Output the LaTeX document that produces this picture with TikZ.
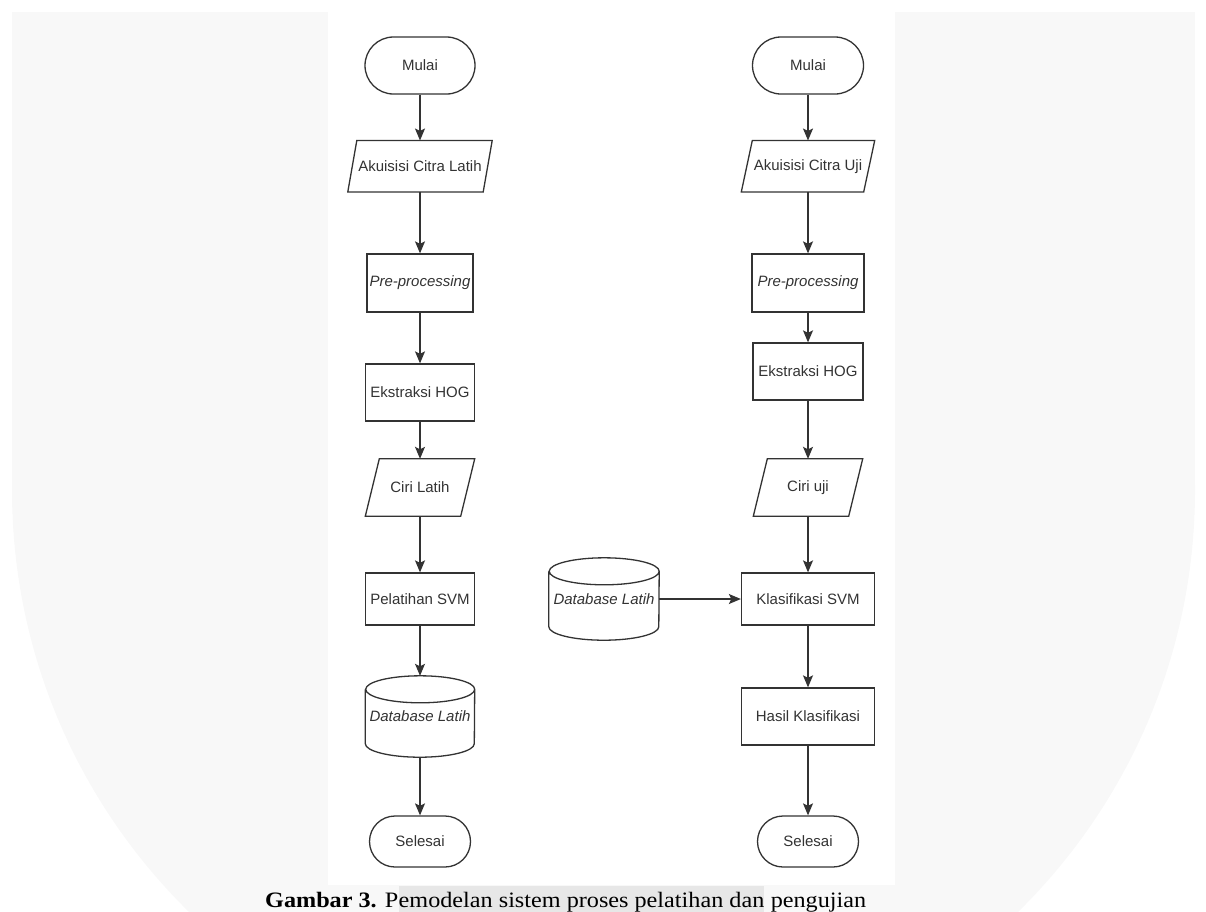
\documentclass[tikz,border=0pt]{standalone}
\usepackage{fontspec}
\setmainfont{Liberation Serif}
\newfontfamily\boxfont{Liberation Sans}
\usetikzlibrary{arrows.meta,calc}
\definecolor{wm}{HTML}{F8F8F8}
\definecolor{hl}{HTML}{E7E7E7}
\definecolor{ln}{HTML}{333333}
\definecolor{txt}{HTML}{333333}
\newcommand\capscale[1]{\scalebox{1.1}[1]{#1}}
\newcommand\drawpara[2]{\draw[shp] ([xshift=#2*0.5pt]#1.north west) -- ([xshift=#2*0.5pt]#1.north east) -- ([xshift=-#2*0.5pt]#1.south east) -- ([xshift=-#2*0.5pt]#1.south west) -- cycle;}
\newcommand\drawdb[3]{\draw[shp] ([yshift=-#3pt]#1.north west) -- ([yshift=#3pt]#1.south west) arc[start angle=180,end angle=360,x radius=#2pt,y radius=#3pt] -- ([yshift=-#3pt]#1.north east) arc[start angle=0,end angle=180,x radius=#2pt,y radius=#3pt] arc[start angle=180,end angle=360,x radius=#2pt,y radius=#3pt];}
\tikzset{
 shp/.style={draw=ln, line width=1.3pt},
 lbl/.style={font=\boxfont\fontsize{15}{18}\selectfont, text=txt, inner sep=0pt, align=center},
 term/.style={lbl, shp},
 proc/.style={lbl, shp},
 iobox/.style={lbl},
 dbbox/.style={lbl},
 arr/.style={draw=ln, line width=1.3pt, -{Stealth[length=12pt,width=10pt,inset=2.5pt]}},
 captxt/.style={font=\fontsize{22}{26}\selectfont, text=black, inner sep=0pt},
}
\begin{document}
\begin{tikzpicture}[x=1pt,y=-1pt]
\useasboundingbox (0,0) rectangle (1206,911);
% watermark background
\begin{scope}
\clip (12,12) rectangle (1195,911);
\fill[wm] (12,12) rectangle (1195,490);
\fill[wm] (603.5,490) circle[radius=591.5pt];
\end{scope}
\fill[white] (328,0) rectangle (895,885);

% left column
\node[term, minimum width=110pt, minimum height=57pt, rounded corners=28.5pt] (m1) at (420,65.5) {Mulai};
\node[iobox, minimum width=135pt, minimum height=51pt] (a1) at (420,166.2) {Akuisisi Citra Latih};
\drawpara{a1}{9}
\node[proc, minimum width=106pt, minimum height=58pt] (p1) at (420,283) {\itshape Pre-processing};
\node[proc, minimum width=109pt, minimum height=57pt] (e1) at (420,392.5) {Ekstraksi HOG};
\node[iobox, minimum width=95pt, minimum height=57pt] (c1) at (420,487.5) {Ciri Latih};
\drawpara{c1}{14}
\node[proc, minimum width=109pt, minimum height=52pt] (s1) at (420,599) {Pelatihan SVM};
\node[dbbox, minimum width=109pt, minimum height=81pt] (d1) at (420,716.5) {\itshape Database Latih};
\drawdb{d1}{54.5}{13.5}
\node[term, minimum width=101pt, minimum height=51pt, rounded corners=25.5pt] (f1) at (420,841.5) {Selesai};

% right column
\node[term, minimum width=111pt, minimum height=57pt, rounded corners=28.5pt] (m2) at (808,65.5) {Mulai};
\node[iobox, minimum width=122pt, minimum height=51pt] (a2) at (808,166.2) {Akuisisi Citra Uji};
\drawpara{a2}{11}
\node[proc, minimum width=112pt, minimum height=58pt] (p2) at (808,283) {\itshape Pre-processing};
\node[proc, minimum width=110pt, minimum height=57pt] (e2) at (808,371.5) {Ekstraksi HOG};
\node[iobox, minimum width=95pt, minimum height=57pt] (c2) at (808,487.5) {Ciri uji};
\drawpara{c2}{14}
\node[proc, minimum width=133pt, minimum height=52pt] (k2) at (808,599) {Klasifikasi SVM};
\node[dbbox, minimum width=110pt, minimum height=82pt] (d2) at (604,599) {\itshape Database Latih};
\drawdb{d2}{55}{13.5}
\node[proc, minimum width=133pt, minimum height=57pt] (h2) at (808,716.5) {Hasil Klasifikasi};
\node[term, minimum width=101pt, minimum height=51pt, rounded corners=25.5pt] (f2) at (808,841.5) {Selesai};

% connectors left
\draw[arr] (m1.south) -- (a1.north);
\draw[arr] (a1.south) -- (p1.north);
\draw[arr] (p1.south) -- (e1.north);
\draw[arr] (e1.south) -- (c1.north);
\draw[arr] (c1.south) -- (s1.north);
\draw[arr] (s1.south) -- (d1.north);
\draw[arr] (d1.south) -- (f1.north);
% connectors right
\draw[arr] (m2.south) -- (a2.north);
\draw[arr] (a2.south) -- (p2.north);
\draw[arr] (p2.south) -- (e2.north);
\draw[arr] (e2.south) -- (c2.north);
\draw[arr] (c2.south) -- (k2.north);
\draw[arr] (d2.east) -- (k2.west);
\draw[arr] (k2.south) -- (h2.north);
\draw[arr] (h2.south) -- (f2.north);

% caption
\node[captxt, anchor=base west] (capA) at (265,907) {\capscale{\textbf{Gambar 3.} P}};
\node[captxt, anchor=base west, fill=hl, text height=21pt, text depth=8pt] (capB) at (capA.base east) {\capscale{emodelan sistem proses pelatihan dan}};
\node[captxt, anchor=base west] (capC) at (capB.base east) {\capscale{\ pengujian}};
\end{tikzpicture}
\end{document}
